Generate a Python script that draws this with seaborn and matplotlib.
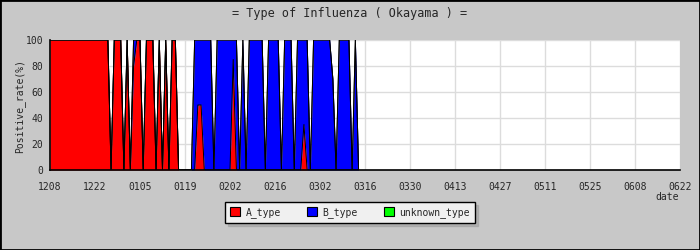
import numpy as np
import pandas as pd
import matplotlib
matplotlib.use("Agg")
import matplotlib.pyplot as plt
from matplotlib.patches import Patch, Rectangle
import seaborn as sns

# ---------------- data (daily positive rate %, starting 12/08) ----------------
a_type = [100, 100, 100, 100, 100, 100, 100, 100, 100, 100,
          100, 100, 100, 100, 100, 100, 100, 100, 100, 0,
          100, 100, 100, 0, 100, 0, 80, 100, 100, 0,
          100, 100, 100, 0, 100, 0, 100, 0, 100, 100,
          0, 0, 0, 0, 0, 0, 50, 50, 0, 0,
          0, 0, 0, 0, 0, 0, 0, 85, 0, 0,
          0, 0, 0, 0, 0, 0, 0, 0, 0, 0,
          0, 0, 0, 0, 0, 0, 0, 0, 0, 35,
          0, 0, 0, 0, 0, 0, 0, 0, 0, 0,
          0, 0, 0, 0, 0, 0, 0]
b_type = [0, 0, 0, 0, 0, 0, 0, 0, 0, 0,
          0, 0, 0, 0, 0, 0, 0, 0, 0, 0,
          0, 0, 0, 0, 0, 0, 20, 0, 0, 0,
          0, 0, 0, 0, 0, 0, 0, 0, 0, 0,
          0, 0, 0, 0, 0, 100, 50, 50, 100, 100,
          100, 0, 100, 100, 100, 100, 100, 15, 100, 0,
          100, 0, 100, 100, 100, 100, 100, 0, 100, 100,
          100, 100, 0, 100, 100, 100, 0, 100, 100, 65,
          100, 0, 100, 100, 100, 100, 100, 100, 70, 0,
          100, 100, 100, 100, 0, 100, 0]
unknown_type = [0, 0, 0, 0, 0, 0, 0, 0, 0, 0,
                0, 0, 0, 0, 0, 0, 0, 0, 0, 0,
                0, 0, 0, 0, 0, 0, 0, 0, 0, 0,
                0, 0, 0, 0, 0, 0, 0, 0, 0, 0,
                0, 0, 0, 0, 0, 0, 0, 0, 0, 0,
                0, 0, 0, 0, 0, 0, 0, 0, 0, 0,
                0, 0, 0, 0, 0, 0, 0, 0, 0, 0,
                0, 0, 0, 0, 0, 0, 0, 0, 0, 0,
                0, 0, 0, 0, 0, 0, 0, 0, 0, 0,
                0, 0, 0, 0, 0, 0, 0]

tick_labels = ["1208", "1222", "0105", "0119", "0202", "0216", "0302", "0316",
               "0330", "0413", "0427", "0511", "0525", "0608", "0622"]
series_names = ["A_type", "B_type", "unknown_type"]
series_colors = ["#ff0000", "#0000ff", "#00ff00"]
title = "= Type of Influenza ( Okayama ) ="

# ---------------- build table ----------------
days = np.arange(len(a_type))
df = pd.DataFrame({"day": days, "A_type": a_type, "B_type": b_type,
                   "unknown_type": unknown_type})
df["c1"] = df["A_type"]
df["c2"] = df["c1"] + df["B_type"]
df["c3"] = df["c2"] + df["unknown_type"]

sns.set_style("white")
plt.rcParams["font.family"] = ["DejaVu Sans Mono", "DejaVu Sans"]

W, H = 700, 250
fig = plt.figure(figsize=(7, 2.5), dpi=100)
fig.patch.set_facecolor("#c8c8c8")
ax = fig.add_axes([50 / W, 80 / H, 630 / W, 130 / H])
ax.set_facecolor("white")

n_days = 14 * (len(tick_labels) - 1)
ax.set_xlim(0, n_days)
ax.set_ylim(0, 100)
ax.set_xticks(np.arange(0, n_days + 1, 14))
ax.set_xticklabels(tick_labels)
ax.set_yticks([0, 20, 40, 60, 80, 100])
ax.set_yticks([10, 30, 50, 70, 90], minor=True)
ax.grid(True, which="major", color="#dcdcdc", lw=1)
ax.set_axisbelow(True)

# stacked areas
lower = np.zeros(len(df))
for col, cum, color in zip(series_names, ["c1", "c2", "c3"], series_colors):
    ax.fill_between(df["day"], lower, df[cum], color=color, lw=0, zorder=2)
    lower = df[cum].values
for cum in ["c1", "c2", "c3"]:
    sns.lineplot(data=df, x="day", y=cum, color="black", lw=0.7, ax=ax,
                 zorder=3, legend=False)

ax.set_xlabel("")
ax.set_ylabel("")
for s in ["top", "right"]:
    ax.spines[s].set_visible(False)
for s in ["left", "bottom"]:
    ax.spines[s].set_color("black")
    ax.spines[s].set_linewidth(1.2)
    ax.spines[s].set_zorder(5)

ax.tick_params(axis="x", which="major", direction="in", length=4, width=1,
               color="black", labelsize=7, pad=9)
ax.tick_params(axis="y", which="major", length=0, labelsize=7, pad=5)
ax.tick_params(axis="y", which="minor", direction="in", length=4, width=1,
               color="black")

fig.text(0.5, 1 - 13 / H, title, ha="center", va="center", fontsize=8.5)
fig.text(20 / W, 1 - 106 / H, "Positive_rate(%)", rotation=90,
         ha="center", va="center", fontsize=7)
fig.text(667 / W, 1 - 197 / H, "date", ha="center", va="center", fontsize=7)

handles = [Patch(facecolor=c, edgecolor="black", lw=0.8) for c in series_colors]
leg = fig.legend(handles, series_names, loc="center",
                 bbox_to_anchor=(350 / W, 1 - 212.5 / H), ncol=3,
                 frameon=True, fancybox=False, shadow={"color": "#999999"},
                 facecolor="#f0f0f0", edgecolor="black", fontsize=7,
                 handlelength=1.0, handleheight=1.0, handletextpad=0.6,
                 columnspacing=2.7, borderpad=0.5)
leg.get_frame().set_linewidth(1)
leg.get_frame().set_alpha(1)

fig.patches.append(Rectangle((0, 0), 1, 1, transform=fig.transFigure,
                             fill=False, edgecolor="black", lw=2))

fig.savefig("out.png", dpi=100, facecolor=fig.get_facecolor())
